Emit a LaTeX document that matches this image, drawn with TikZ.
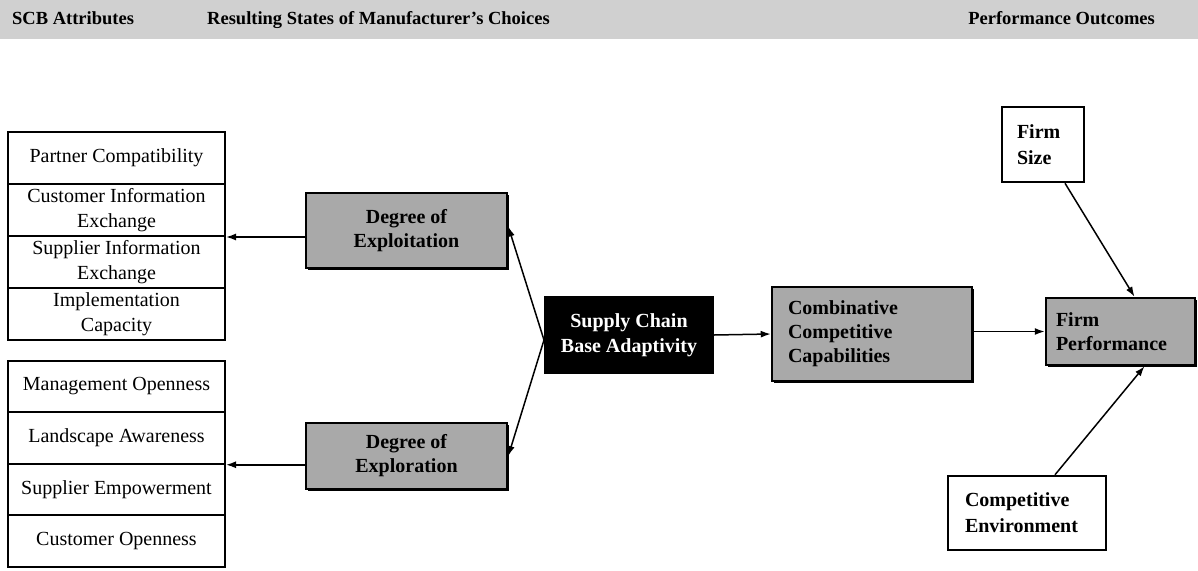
\documentclass[tikz,border=0pt]{standalone}
\usepackage{fontspec}
\setmainfont{Liberation Serif}
\usetikzlibrary{arrows.meta,shadows}
\definecolor{boxgray}{HTML}{A9A9A9}
\definecolor{bandgray}{HTML}{D0D0D0}
\begin{document}
\begin{tikzpicture}[x=1pt,y=-1pt,
  attr/.style={draw, line width=2pt, minimum width=217pt, inner sep=0pt,
    align=center, font=\fontsize{20}{25}\selectfont},
  rowa/.style={attr, minimum height=52pt},
  rowb/.style={attr, minimum height=51.5pt},
  shadebox/.style={draw, line width=2.5pt, fill=boxgray, inner sep=0pt,
    font=\bfseries\fontsize{20}{24}\selectfont,
    drop shadow={shadow xshift=2pt, shadow yshift=-2pt, fill=black, opacity=1}},
  darkbox/.style={draw, line width=2pt, fill=black, text=white, inner sep=0pt,
    align=center, font=\bfseries\fontsize{20}{25}\selectfont},
  plainbox/.style={draw, line width=2.5pt, fill=white, inner sep=0pt,
    font=\bfseries\fontsize{20}{26}\selectfont},
  head/.style={inner sep=0pt, font=\bfseries\fontsize{18.5}{21}\selectfont},
  link/.style={line width=1.5pt, -{Latex[length=10pt,width=7pt]}}]

\useasboundingbox (0,0) rectangle (1198,570);

% heading band
\fill[bandgray] (0,0) rectangle (1198,39);
\node[head, anchor=base west] (h1) at (12,24) {SCB Attributes};
\node[head, anchor=base west] (h2) at (207,24) {Resulting States of Manufacturer’s Choices};
\node[head, anchor=base east] (h3) at (1155,24) {Performance Outcomes};

% exploitation attributes
\node[rowa] (a1) at (116.5,158) {Partner Compatibility};
\node[rowa] (a2) at (116.5,210) {Customer Information\\Exchange};
\node[rowa] (a3) at (116.5,262) {Supplier Information\\Exchange};
\node[rowa] (a4) at (116.5,314) {Implementation\\Capacity};

% exploration attributes
\node[rowb] (b1) at (116.5,386.5) {Management Openness};
\node[rowb] (b2) at (116.5,438) {Landscape Awareness};
\node[rowb] (b3) at (116.5,489.5) {Supplier Empowerment};
\node[rowb] (b4) at (116.5,541) {Customer Openness};

% choice states
\node[shadebox, align=center, minimum width=201pt, minimum height=75pt]
  (expl) at (406.5,230.5) {Degree of\\Exploitation};
\node[shadebox, align=center, minimum width=201pt, minimum height=66pt]
  (explr) at (406.5,456) {Degree of\\Exploration};
\node[darkbox, minimum width=168pt, minimum height=76pt]
  (scba) at (629,335) {Supply Chain\\Base Adaptivity};
\node[shadebox, align=left, text width=168pt, inner xsep=16pt, minimum height=94pt]
  (ccc) at (872,334) {Combinative\\Competitive\\Capabilities};

% outcomes
\node[shadebox, align=left, text width=129pt, inner xsep=10pt, minimum height=67pt]
  (fp) at (1120.5,331.5) {Firm\\Performance};
\node[plainbox, align=left, text width=52pt, inner xsep=15pt, minimum height=75pt]
  (fs) at (1043,144.5) {Firm\\Size};
\node[plainbox, align=left, text width=124pt, inner xsep=17pt, minimum height=74pt]
  (ce) at (1027,513) {Competitive\\Environment};

% connectors
\draw[link] (expl.west |- a2.south east) -- (a2.south east);
\draw[link] (explr.west |- b2.south east) -- (b2.south east);
\draw[link] ([yshift=-5pt]scba.west) -- ([yshift=4pt]expl.east);
\draw[link] ([yshift=-5pt]scba.west) -- (explr.east);
\draw[link] (scba.east) -- (ccc.west);
\draw[link] (ccc.east |- fp.west) -- (fp.west);
\draw[link] ([xshift=22pt]fs.south) -- ([xshift=14pt]fp.north);
\draw[link] ([xshift=28pt]ce.north) -- ([xshift=24pt]fp.south);

\end{tikzpicture}
\end{document}
